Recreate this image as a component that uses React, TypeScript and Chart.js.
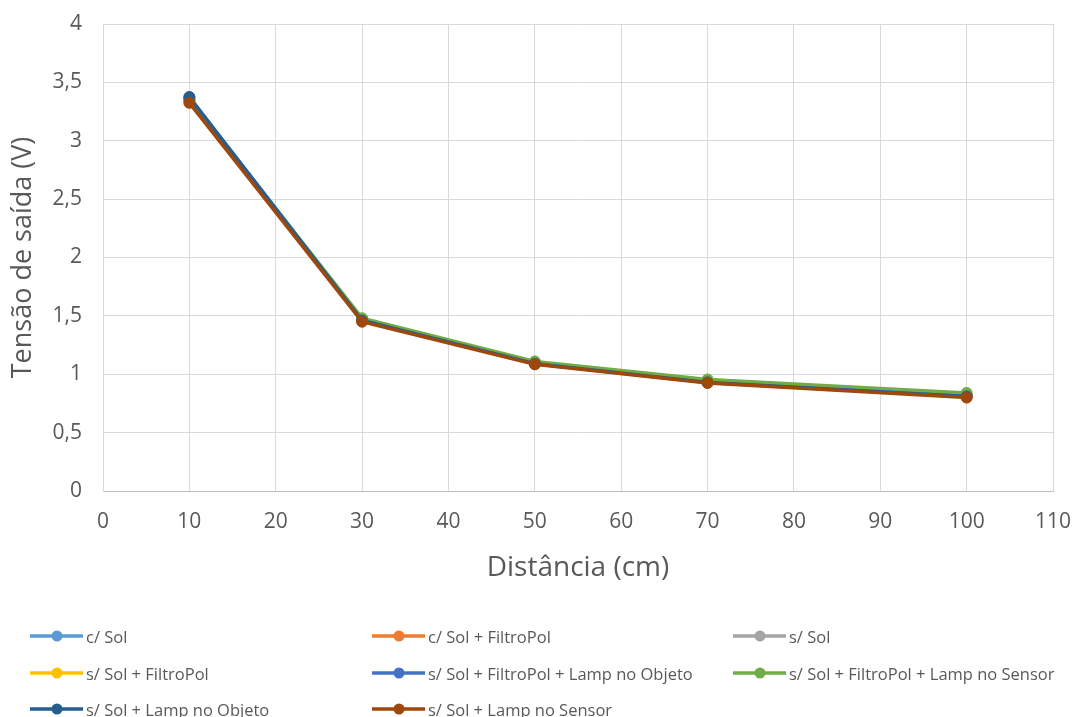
import React, { useEffect, useRef } from "react";
import { Chart, registerables } from "chart.js";

Chart.register(...registerables);

const distances = [10, 30, 50, 70, 100];

const seriesNames = [
  "c/ Sol",
  "c/ Sol + FiltroPol",
  "s/ Sol",
  "s/ Sol + FiltroPol",
  "s/ Sol + FiltroPol + Lamp no Objeto",
  "s/ Sol + FiltroPol + Lamp no Sensor",
  "s/ Sol + Lamp no Objeto",
  "s/ Sol + Lamp no Sensor",
];

const cSol = [3.35, 1.47, 1.1, 0.94, 0.82];
const cSolFiltro = [3.34, 1.46, 1.1, 0.94, 0.81];
const sSol = [3.35, 1.47, 1.1, 0.95, 0.82];
const sSolFiltro = [3.36, 1.47, 1.1, 0.95, 0.83];
const sSolFiltroLampObj = [3.37, 1.47, 1.1, 0.94, 0.82];
const sSolFiltroLampSensor = [3.35, 1.48, 1.11, 0.955, 0.84];
const sSolLampObj = [3.375, 1.46, 1.09, 0.93, 0.81];
const sSolLampSensor = [3.325, 1.45, 1.085, 0.925, 0.8];

const seriesValues = [
  cSol,
  cSolFiltro,
  sSol,
  sSolFiltro,
  sSolFiltroLampObj,
  sSolFiltroLampSensor,
  sSolLampObj,
  sSolLampSensor,
];

const colors = [
  "#5B9BD5",
  "#ED7D31",
  "#A5A5A5",
  "#FFC000",
  "#4472C4",
  "#70AD47",
  "#255E91",
  "#9E480E",
];

const FONT = "'Open Sans', sans-serif";
const TEXT = "#595959";

export default function App() {
  const ref = useRef<HTMLCanvasElement | null>(null);

  useEffect(() => {
    if (!ref.current) return;
    const n = seriesNames.length;
    const chart = new Chart(ref.current, {
      type: "line",
      data: {
        datasets: seriesNames.map((name, i) => ({
          label: name,
          data: distances.map((d, j) => ({ x: d, y: seriesValues[i][j] })),
          borderColor: colors[i],
          backgroundColor: colors[i],
          pointBackgroundColor: colors[i],
          pointBorderColor: colors[i],
          borderWidth: 3.5,
          pointRadius: 5.5,
          pointBorderWidth: 1,
          fill: false,
          tension: 0,
          order: n - 1 - i,
        })),
      },
      options: {
        responsive: false,
        animation: false,
        layout: { padding: { left: 0, right: 22, top: 24, bottom: 132 } },
        plugins: {
          legend: { display: false },
          tooltip: { enabled: false },
        },
        scales: {
          x: {
            type: "linear",
            min: 0,
            max: 110,
            ticks: {
              stepSize: 10,
              color: TEXT,
              font: { family: FONT, size: 21 },
              padding: 0,
            },
            grid: {
              color: "#d9d9d9",
              drawTicks: true,
              tickLength: 18,
              tickColor: "rgba(0,0,0,0)",
              lineWidth: 1,
            },
            border: { color: "#bfbfbf", width: 1 },
            title: {
              display: true,
              text: "Distância (cm)",
              color: TEXT,
              font: { family: FONT, size: 28 },
              padding: { top: 0, bottom: 0 },
            },
            afterFit: (scale: any) => {
              scale.height = 94;
            },
          },
          y: {
            min: 0,
            max: 4,
            ticks: {
              stepSize: 0.5,
              color: TEXT,
              font: { family: FONT, size: 21 },
              padding: 0,
              callback: (v: any) => String(v).replace(".", ","),
            },
            grid: {
              color: "#d9d9d9",
              drawTicks: true,
              tickLength: 21,
              tickColor: "rgba(0,0,0,0)",
              lineWidth: 1,
            },
            border: { color: "#d9d9d9", width: 1 },
            title: {
              display: true,
              text: "Tensão de saída (V)",
              color: TEXT,
              font: { family: FONT, size: 27 },
              padding: { top: 7, bottom: 0 },
            },
            afterFit: (scale: any) => {
              scale.width = 103;
            },
          },
        },
      },
    });
    return () => chart.destroy();
  }, []);

  const colX = [30, 372, 733];
  const rowY = [636, 673, 709];

  return (
    <div
      style={{
        position: "fixed",
        left: 0,
        top: 0,
        width: 1075,
        height: 717,
        background: "#ffffff",
        overflow: "hidden",
      }}
    >
      <canvas ref={ref} width={1075} height={717} style={{ display: "block" }} />
      {seriesNames.map((name, i) => {
        const col = i % 3;
        const row = Math.floor(i / 3);
        return (
          <div
            key={name}
            style={{
              position: "absolute",
              left: colX[col],
              top: rowY[row] - 12,
              height: 24,
              display: "flex",
              alignItems: "center",
              whiteSpace: "nowrap",
              fontFamily: FONT,
              fontSize: 16.5,
              color: TEXT,
            }}
          >
            <svg width={53} height={14} style={{ marginRight: 3 }}>
              <line x1={0} y1={7} x2={53} y2={7} stroke={colors[i]} strokeWidth={3.5} />
              <circle cx={27} cy={7} r={5.5} fill={colors[i]} />
            </svg>
            <span>{name}</span>
          </div>
        );
      })}
    </div>
  );
}
